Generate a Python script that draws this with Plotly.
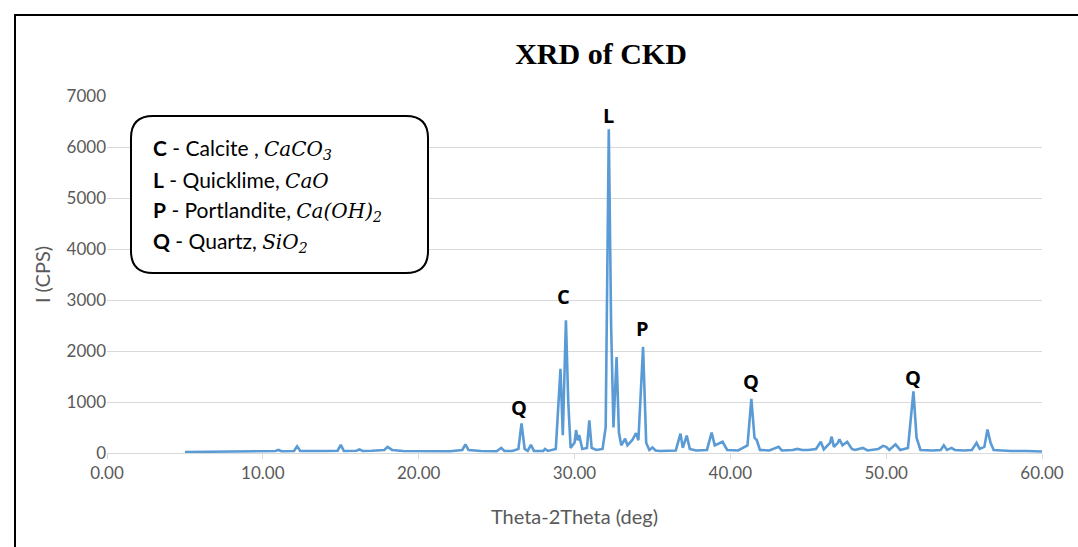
import plotly.graph_objects as go

# ---- data (2θ in degrees, intensity in CPS) ----
two_theta = [
    5.0, 6.0, 7.0, 8.0, 9.0, 10.0, 10.8, 11.0, 11.2, 12.0, 12.2, 12.4, 13.0, 14.0, 14.8, 15.0, 15.2,
    16.0, 16.2, 16.4, 17.0, 17.8, 18.0, 18.3, 19.0, 20.0, 21.0, 22.0, 22.8, 23.0, 23.2, 24.0, 25.0,
    25.3, 25.5, 26.0, 26.4, 26.6, 26.8, 27.0, 27.2, 27.4, 28.0, 28.1, 28.3, 28.8, 29.1, 29.25, 29.45,
    29.6, 29.75, 30.0, 30.1, 30.2, 30.3, 30.5, 30.8, 30.95, 31.1, 31.4, 31.8, 32.0, 32.2, 32.35, 32.5,
    32.7, 32.85, 33.0, 33.25, 33.4, 33.7, 33.95, 34.1, 34.4, 34.6, 34.8, 35.0, 35.2, 35.5, 36.0, 36.5,
    36.8, 36.95, 37.2, 37.4, 37.8, 38.0, 38.5, 38.8, 39.0, 39.5, 39.8, 40.5, 41.1, 41.35, 41.55, 41.7,
    41.9, 42.5, 43.1, 43.3, 44.0, 44.3, 44.6, 45.0, 45.5, 45.8, 46.0, 46.4, 46.5, 46.65, 46.9, 47.0,
    47.2, 47.5, 47.8, 48.0, 48.5, 48.8, 49.5, 49.8, 50.0, 50.2, 50.6, 50.9, 51.4, 51.75, 51.95, 52.2,
    53.0, 53.5, 53.7, 53.9, 54.2, 54.4, 55.0, 55.5, 55.8, 56.0, 56.3, 56.5, 56.7, 56.9, 57.5, 58.0,
    59.0, 60.0,
]
intensity = [
    20, 25, 30, 25, 35, 40, 40, 60, 35, 40, 130, 40, 35, 40, 45, 160, 40,
    45, 70, 40, 45, 60, 120, 60, 40, 35, 40, 35, 60, 170, 60, 40, 35,
    100, 40, 40, 80, 580, 80, 40, 160, 40, 40, 80, 40, 80, 1650, 350, 2600,
    1000, 100, 200, 450, 250, 350, 80, 100, 640, 100, 60, 80, 500, 6350, 2500, 500,
    1880, 400, 150, 280, 150, 250, 390, 250, 2080, 200, 60, 110, 50, 40, 50, 50,
    380, 100, 340, 80, 50, 50, 60, 400, 150, 220, 60, 50, 150, 1060, 300, 250,
    60, 50, 120, 50, 60, 80, 60, 60, 80, 220, 70, 200, 320, 120, 200, 270,
    150, 220, 80, 60, 100, 50, 80, 140, 120, 60, 170, 60, 100, 1210, 300, 60,
    50, 60, 150, 60, 100, 60, 50, 60, 200, 80, 120, 460, 200, 60, 50, 40,
    40, 30,
]

peak_labels = ["Q", "C", "L", "P", "Q", "Q"]
peak_label_x = [26.45, 29.27, 32.2, 34.34, 41.33, 51.73]
peak_label_y = [900, 3060, 6610, 2450, 1410, 1490]

legend_codes = ["C", "L", "P", "Q"]
legend_names = ["Calcite ,", "Quicklime,", "Portlandite,", "Quartz,"]
legend_formulas = ["CaCO<sub>3</sub>", "CaO", "Ca(OH)<sub>2</sub>", "SiO<sub>2</sub>"]

x_ticks = [0, 10, 20, 30, 40, 50, 60]
y_ticks = [0, 1000, 2000, 3000, 4000, 5000, 6000, 7000]

# ---- figure ----
W, H = 1078, 547
L, R, T, B = 107, 36, 96, 94
PW, PH = W - L - R, H - T - B

def px_x(p):
    return (p - L) / PW

def px_y(p):
    return (H - B - p) / PH

fig = go.Figure()
fig.add_trace(go.Scatter(
    x=two_theta, y=intensity, mode="lines",
    line=dict(color="#5B9BD5", width=2.6),
    hoverinfo="x+y", showlegend=False,
))

tick_font = dict(family="Lato, Open Sans, sans-serif", size=17, color="#595959")
title_font = dict(family="Lato, Open Sans, sans-serif", size=20, color="#595959")

for t, xv, yv in zip(peak_labels, peak_label_x, peak_label_y):
    fig.add_annotation(
        x=xv, y=yv, xref="x", yref="y", text="<b>%s</b>" % t, showarrow=False,
        font=dict(family="Open Sans, sans-serif", size=20, color="#000000"),
        xanchor="center", yanchor="middle",
    )

# legend box (rounded rectangle)
bx0, bx1, by0, by1 = 131, 428, 116, 273
r = 22
x0, x1 = px_x(bx0), px_x(bx1)
y0, y1 = px_y(by1), px_y(by0)
rx, ry = r / PW, r / PH
path = (
    f"M {x0+rx},{y1} L {x1-rx},{y1} Q {x1},{y1} {x1},{y1-ry} "
    f"L {x1},{y0+ry} Q {x1},{y0} {x1-rx},{y0} "
    f"L {x0+rx},{y0} Q {x0},{y0} {x0},{y0+ry} "
    f"L {x0},{y1-ry} Q {x0},{y1} {x0+rx},{y1} Z"
)
fig.add_shape(type="path", path=path, xref="paper", yref="paper",
              line=dict(color="#000000", width=2), fillcolor="white", layer="above")

line_ys = [149, 180, 211, 242]
for code, name, formula, py in zip(legend_codes, legend_names, legend_formulas, line_ys):
    txt = (f"<b>{code}</b> - {name} "
           f"<span style=\"font-family:'DejaVu Serif';font-size:20px\"><i>{formula}</i></span>")
    fig.add_annotation(
        x=px_x(151), y=px_y(py), xref="paper", yref="paper", text=txt, showarrow=False,
        xanchor="left", yanchor="middle",
        font=dict(family="Lato, Open Sans, sans-serif", size=21, color="#000000"),
    )

# outer chart frame
fig.add_shape(type="rect", xref="paper", yref="paper",
              x0=px_x(15), x1=px_x(1095), y0=px_y(565), y1=px_y(15),
              line=dict(color="#000000", width=2), fillcolor="rgba(0,0,0,0)", layer="above")

fig.update_layout(
    width=W, height=H,
    margin=dict(l=L, r=R, t=T, b=B),
    paper_bgcolor="white", plot_bgcolor="white",
    title=dict(text="<b>XRD of CKD</b>", x=px_x(601), xref="paper", xanchor="center",
               y=1 - 53 / H, yanchor="middle",
               font=dict(family="Liberation Serif, Times New Roman, serif", size=30, color="#000000")),
    xaxis=dict(
        range=[0, 60], tickvals=x_ticks, ticktext=["%.2f" % v for v in x_ticks],
        showgrid=False, zeroline=False, showline=True, linecolor="#D9D9D9", linewidth=1,
        ticks="outside", ticklen=5, tickcolor="#D9D9D9", tickfont=tick_font,
        title=dict(text="Theta-2Theta (deg)", font=title_font, standoff=27),
    ),
    yaxis=dict(
        range=[0, 7000], tickvals=y_ticks, showgrid=True, gridcolor="#D9D9D9", gridwidth=1,
        zeroline=False, showline=False, tickfont=tick_font, ticks="",
        title=dict(text="I (CPS)", font=title_font, standoff=10),
    ),
)

fig.write_html("out.html")
